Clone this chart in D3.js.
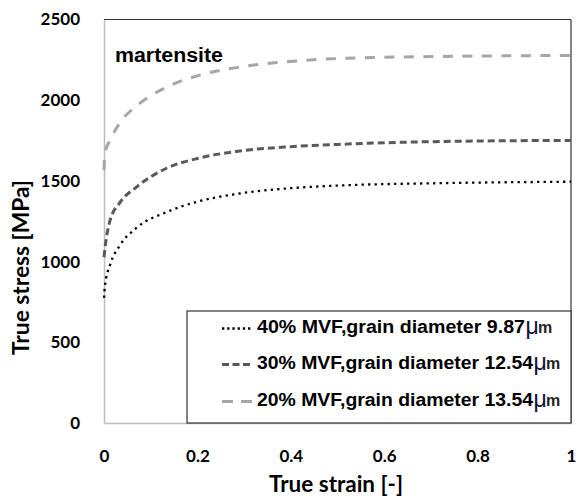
<!DOCTYPE html>
<html><head><meta charset="utf-8">
<script src="https://cdn.jsdelivr.net/npm/d3@7"></script>
<style>body{margin:0;background:#fff}</style>
</head><body>
<svg id="c" width="577" height="498"></svg>
<script>
const strain = [0, 0.002, 0.013, 0.034, 0.07, 0.135, 0.205, 0.29, 0.4, 0.5, 0.72, 1.0];
const stress40 = [775, 850, 980, 1100, 1210, 1308, 1375, 1422, 1455, 1471, 1486, 1495];
const stress30 = [1027, 1080, 1255, 1365, 1463, 1580, 1642, 1685, 1712, 1726, 1744, 1751];
const stress20 = [1567, 1672, 1752, 1860, 1965, 2082, 2155, 2205, 2240, 2258, 2271, 2277];
const seriesNames = ["40% MVF,grain diameter 9.87", "30% MVF,grain diameter 12.54", "20% MVF,grain diameter 13.54"];
const xTicks = [0, 0.2, 0.4, 0.6, 0.8, 1];
const yTicks = [0, 500, 1000, 1500, 2000, 2500];

const svg = d3.select("#c");
const L = 104, R = 571, T = 19.5, B = 423;
const x = d3.scaleLinear().domain([0, 1]).range([L, R]);
const y = d3.scaleLinear().domain([0, 2500]).range([B, T]);
const tickFont = "Lato, 'Open Sans', sans-serif";
const arial = "'Liberation Sans', Arial, sans-serif";

// frame
svg.append("line").attr("x1", L).attr("x2", R).attr("y1", T).attr("y2", T).attr("stroke", "#333").attr("stroke-width", 1.2);
svg.append("line").attr("x1", R).attr("x2", R).attr("y1", T).attr("y2", B).attr("stroke", "#333").attr("stroke-width", 1.2);

const yAxis = svg.append("g").attr("transform", `translate(${L},0)`)
  .call(d3.axisLeft(y).tickValues(yTicks).tickSize(0).tickPadding(24).tickFormat(d3.format("d")));
yAxis.select(".domain").attr("stroke", "#bdbdbd").attr("stroke-width", 1.5);
yAxis.selectAll("text").attr("font-family", tickFont).attr("font-weight", "bold").attr("font-size", 17).attr("fill", "#000");

const xAxis = svg.append("g").attr("transform", `translate(0,${B})`)
  .call(d3.axisBottom(x).tickValues(xTicks).tickSize(0).tickPadding(27).tickFormat(d => d === 0 || d === 1 ? String(d) : d3.format(".1f")(d)));
xAxis.select(".domain").attr("stroke", "#bdbdbd").attr("stroke-width", 1.5);
xAxis.selectAll("text").attr("font-family", tickFont).attr("font-weight", "bold").attr("font-size", 17).attr("fill", "#000");

// axis titles
svg.append("text").attr("x", 269).attr("y", 492)
  .attr("font-family", tickFont).attr("font-weight", "bold").attr("font-size", 22)
  .attr("textLength", 134).attr("lengthAdjust", "spacingAndGlyphs").text("True strain [-]");
svg.append("text").attr("transform", "translate(29,355) rotate(-90)")
  .attr("font-family", tickFont).attr("font-weight", "bold").attr("font-size", 22)
  .attr("textLength", 175).attr("lengthAdjust", "spacingAndGlyphs").text("True stress [MPa]");

svg.append("text").attr("x", 115).attr("y", 62).attr("font-family", arial)
  .attr("font-weight", "bold").attr("font-size", 20)
  .attr("textLength", 108).attr("lengthAdjust", "spacingAndGlyphs").text("martensite");

const styles = [
  {data: stress40, color: "#000", width: 2.3, dash: "2.3,4.2", ldash: "2.3,2.9"},
  {data: stress30, color: "#595959", width: 3, dash: "7,4", ldash: "7,3.5"},
  {data: stress20, color: "#a6a6a6", width: 3, dash: "10,9.5", ldash: "11,8"}
];
const line = d3.line().x(d => x(d[0])).y(d => y(d[1])).curve(d3.curveMonotoneX);
styles.forEach(s => {
  svg.append("path").datum(strain.map((e, i) => [e, s.data[i]]))
    .attr("d", line).attr("fill", "none").attr("stroke", s.color)
    .attr("stroke-width", s.width).attr("stroke-dasharray", s.dash);
});

// legend
svg.append("rect").attr("x", 187).attr("y", 311).attr("width", R - 187).attr("height", B - 311)
  .attr("fill", "#fff").attr("stroke", "#333").attr("stroke-width", 1.2);
const ly = [333, 369, 406];
const textEnd = [525, 533, 533];
styles.forEach((s, i) => {
  svg.append("line").attr("x1", 222).attr("x2", 253).attr("y1", ly[i] - 4.5).attr("y2", ly[i] - 4.5)
    .attr("stroke", s.color).attr("stroke-width", s.width).attr("stroke-dasharray", s.ldash);
  svg.append("text").attr("x", 257).attr("y", ly[i])
    .attr("font-family", arial).attr("font-weight", "bold").attr("font-size", 17.5)
    .attr("textLength", textEnd[i] - 257).attr("lengthAdjust", "spacingAndGlyphs").text(seriesNames[i]);
  svg.append("text").attr("x", textEnd[i] + 0.5).attr("y", ly[i] + 1)
    .attr("font-family", arial).attr("font-size", 23).attr("fill", "#10103a").text("μ");
  svg.append("text").attr("x", textEnd[i] + 13).attr("y", ly[i])
    .attr("font-family", arial).attr("font-weight", "bold").attr("font-size", 16).attr("fill", "#222").text("m");
});
</script>
</body></html>
